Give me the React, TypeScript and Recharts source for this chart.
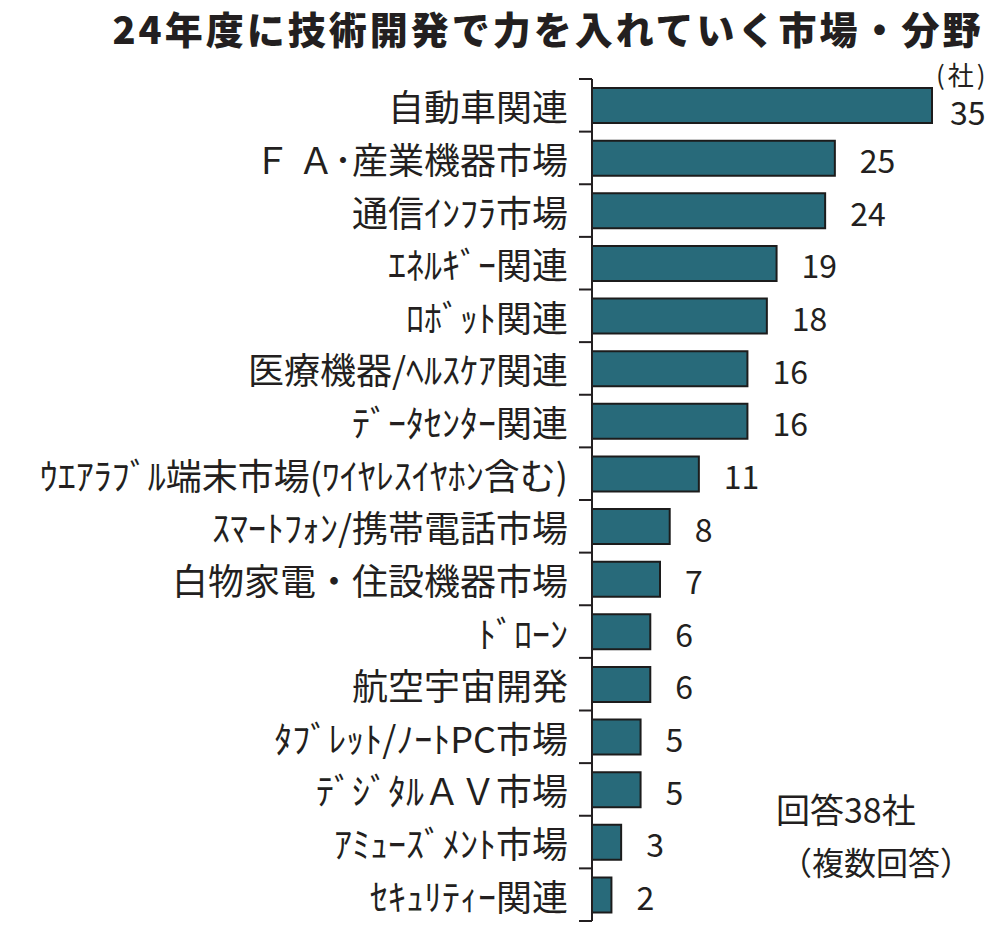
import { BarChart, Bar, XAxis, YAxis, LabelList } from 'recharts'

const TITLE = '24年度に技術開発で力を入れていく市場・分野'
const UNIT = '(社)'
const NOTE_1 = '回答38社'
const NOTE_2 = '（複数回答）'

const categories = [
  '自動車関連',
  'Ｆ Ａ･産業機器市場',
  '通信ｲﾝﾌﾗ市場',
  'ｴﾈﾙｷﾞｰ関連',
  'ﾛﾎﾞｯﾄ関連',
  '医療機器/ﾍﾙｽｹｱ関連',
  'ﾃﾞｰﾀｾﾝﾀｰ関連',
  'ｳｴｱﾗﾌﾞﾙ端末市場(ﾜｲﾔﾚｽｲﾔﾎﾝ含む)',
  'ｽﾏｰﾄﾌｫﾝ/携帯電話市場',
  '白物家電・住設機器市場',
  'ﾄﾞﾛｰﾝ',
  '航空宇宙開発',
  'ﾀﾌﾞﾚｯﾄ/ﾉｰﾄPC市場',
  'ﾃﾞｼﾞﾀﾙＡＶ市場',
  'ｱﾐｭｰｽﾞﾒﾝﾄ市場',
  'ｾｷｭﾘﾃｨｰ関連',
]
const counts = [35, 25, 24, 19, 18, 16, 16, 11, 8, 7, 6, 6, 5, 5, 3, 2]

const data = categories.map((name, i) => ({ name, count: counts[i] }))

const FONT = '"Noto Sans CJK JP", "Noto Sans", sans-serif'
const INK = '#231f20'
const BAR_FILL = '#286a7a'

function CategoryTick(props: any) {
  const { x, y, payload, index } = props
  const half = payload?.offset || 26.3
  const last = index === categories.length - 1
  return (
    <g>
      <text
        x={x - 24}
        y={y}
        textAnchor="end"
        dominantBaseline="central"
        fontSize={36}
        fill={INK}
        fontFamily={FONT}
      >
        {payload.value}
      </text>
      <line x1={x - 13} x2={x} y1={y - half} y2={y - half} stroke={INK} strokeWidth={2} />
      {last && <line x1={x - 13} x2={x} y1={y + half} y2={y + half} stroke={INK} strokeWidth={2} />}
    </g>
  )
}

function ValueLabel(props: any) {
  const { x, y, width, height, value, index } = props
  // the top value sits a bit closer and lower, under the unit mark
  const dx = index === 0 ? 18 : 25
  const dy = index === 0 ? 5 : 1
  return (
    <text
      x={x + width + dx}
      y={y + height / 2 + dy}
      dominantBaseline="central"
      fontSize={32}
      fill={INK}
      fontFamily={FONT}
    >
      {value}
    </text>
  )
}

export default function App() {
  return (
    <div style={{ position: 'absolute', left: 0, top: 0, width: 1000, height: 926, background: '#fff', fontFamily: FONT, color: INK }}>
      {/* Title */}
      <div style={{ position: 'absolute', left: 548, top: 0, transform: 'translateX(-50%)', fontSize: 38, fontWeight: 900, letterSpacing: 3, lineHeight: 'normal', whiteSpace: 'nowrap' }}>
        {TITLE}
      </div>

      <BarChart
        width={1000}
        height={926}
        data={data}
        layout="vertical"
        margin={{ top: 79, right: 68, bottom: 5, left: 0 }}
      >
        <XAxis type="number" domain={[0, 35]} hide />
        <YAxis
          type="category"
          dataKey="name"
          width={592}
          tickSize={0}
          tickMargin={0}
          tickLine={false}
          axisLine={{ stroke: INK, strokeWidth: 2 }}
          tick={<CategoryTick />}
          interval={0}
        />
        <Bar dataKey="count" barSize={35} fill={BAR_FILL} stroke="#1c1c1c" strokeWidth={2} isAnimationActive={false}>
          <LabelList dataKey="count" content={<ValueLabel />} />
        </Bar>
      </BarChart>

      {/* Unit and notes */}
      <div style={{ position: 'absolute', left: 936, top: 55, fontSize: 26, lineHeight: 'normal', letterSpacing: 3 }}>{UNIT}</div>
      <div style={{ position: 'absolute', left: 776, top: 792, fontSize: 34, lineHeight: 1 }}>{NOTE_1}</div>
      <div style={{ position: 'absolute', left: 780, top: 845, fontSize: 32, lineHeight: 1 }}>{NOTE_2}</div>
    </div>
  )
}
